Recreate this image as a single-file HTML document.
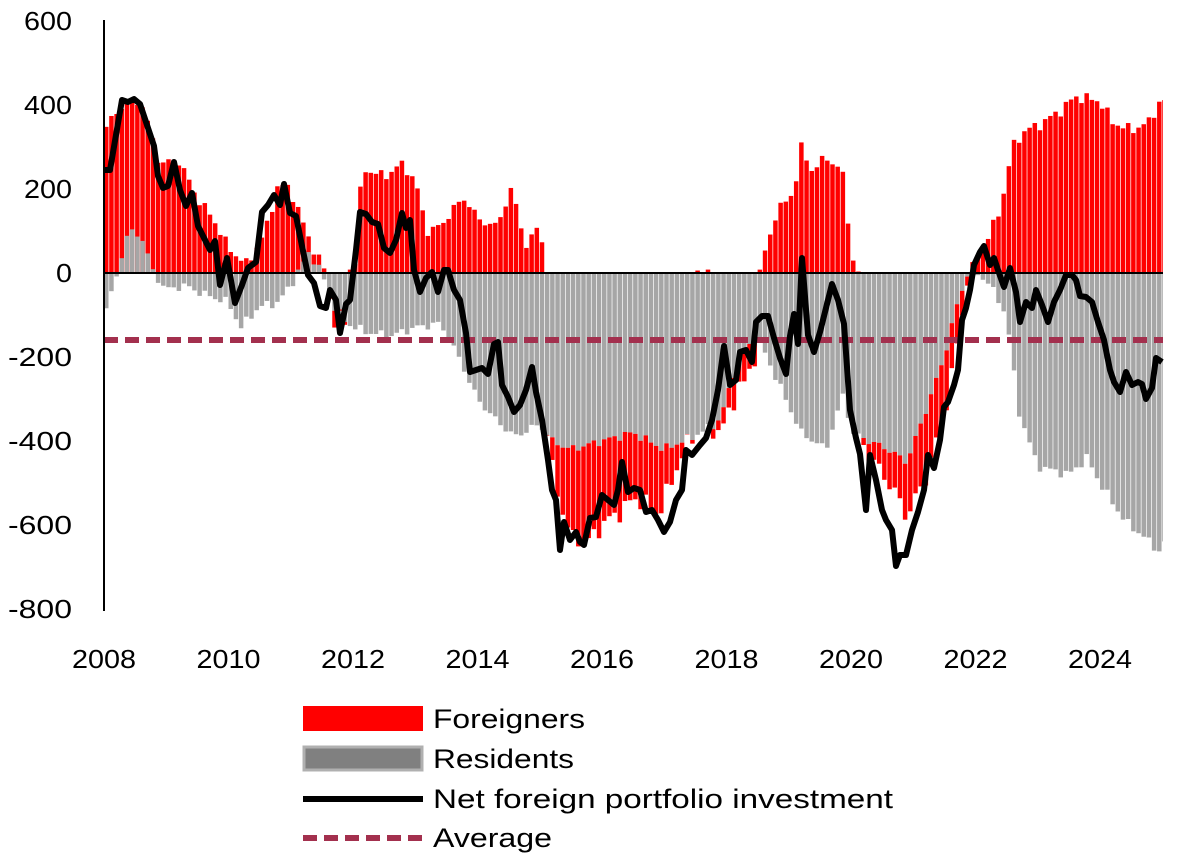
<!DOCTYPE html>
<html><head><meta charset="utf-8"><style>
html,body{margin:0;padding:0;background:#fff;}
svg{display:block;font-family:"Liberation Sans",sans-serif;}
</style></head><body>
<svg id="c" width="1181" height="858" xmlns="http://www.w3.org/2000/svg"></svg>
<script>
const svg=document.getElementById('c');
const X0=104, PX=62.25, Y0=273, K=0.42;
const xf=t=>X0+(t-2008)*PX, yf=v=>Y0-v*K;
function interp(kp,t){for(let i=0;i<kp.length-1;i++){if(t<=kp[i+1][0]){const a=kp[i],b=kp[i+1];const f=(t-a[0])/(b[0]-a[0]);return a[1]+(b[1]-a[1])*Math.max(0,Math.min(1,f));}}return kp[kp.length-1][1];}
const res=[[2008,-100],[2008.15,-40],[2008.25,20],[2008.4,100],[2008.6,90],[2008.8,0],[2009,-40],[2009.3,-30],[2009.6,-50],[2010,-70],[2010.2,-130],[2010.5,-80],[2010.8,-70],[2011,-30],[2011.3,50],[2011.5,0],[2011.7,-80],[2011.9,-120],[2012.2,-140],[2012.6,-150],[2013,-130],[2013.4,-120],[2013.7,-200],[2014,-300],[2014.3,-350],[2014.6,-390],[2015,-360],[2015.2,-400],[2015.5,-420],[2016,-400],[2016.5,-380],[2017,-420],[2017.3,-400],[2017.6,-380],[2017.9,-350],[2018.2,-200],[2018.5,-150],[2018.8,-250],[2019.2,-380],[2019.6,-420],[2019.9,-280],[2020,-380],[2020.3,-400],[2020.6,-420],[2020.9,-450],[2021.2,-330],[2021.5,-200],[2021.7,-80],[2021.9,10],[2022.2,-20],[2022.5,-100],[2022.7,-330],[2023,-460],[2023.5,-480],[2023.8,-440],[2024,-500],[2024.4,-590],[2024.8,-640],[2025,-670],[2025.1,-600]];
const fo=[[2008,340],[2008.3,400],[2008.6,410],[2008.9,260],[2009.2,270],[2009.5,180],[2009.8,120],[2010,60],[2010.3,20],[2010.6,100],[2010.8,210],[2011,200],[2011.3,80],[2011.5,20],[2011.7,-30],[2011.9,0],[2012.05,30],[2012.15,250],[2012.5,230],[2012.8,260],[2013,220],[2013.2,100],[2013.4,110],[2013.6,150],[2013.8,180],[2014,130],[2014.3,110],[2014.55,200],[2014.8,60],[2015,120],[2015.1,20],[2015.25,-100],[2015.5,-210],[2015.8,-230],[2016,-200],[2016.3,-180],[2016.6,-150],[2016.9,-160],[2017.1,-90],[2017.3,-30],[2017.5,10],[2017.8,-10],[2018,-50],[2018.3,-80],[2018.5,-30],[2018.6,40],[2018.8,140],[2019.1,200],[2019.2,300],[2019.4,240],[2019.6,280],[2019.9,230],[2020,50],[2020.1,0],[2020.4,-50],[2020.7,-90],[2020.9,-130],[2021.2,-160],[2021.5,-140],[2021.7,-100],[2021.9,0],[2022.1,50],[2022.4,150],[2022.6,300],[2022.8,340],[2023,350],[2023.4,390],[2023.6,420],[2024,410],[2024.2,360],[2024.5,340],[2024.8,360],[2025,420],[2025.1,390]];
let s='';
const step=PX/12;
for(let i=0;i<205;i++){
 const t=2008+i/12+0.04;
 const x=xf(2008+i/12);
 if(x>1163)break;
 const w=Math.min(step-0.7,1163-x);
 const nz=Math.sin(i*1.7)*9+Math.sin(i*3.1)*6;
 const r=interp(res,t)+nz*0.8, f=interp(fo,t)+nz;
 if(f>0){s+=`<rect x="${x}" y="${yf(f)}" width="${w}" height="${f*K}" fill="#ff0000"/>`;}
 if(r<0){s+=`<rect x="${x}" y="${Y0}" width="${w}" height="${-r*K}" fill="#a6a6a6"/>`;
   if(f<0)s+=`<rect x="${x}" y="${yf(r)}" width="${w}" height="${-f*K}" fill="#ff0000"/>`;}
 else{s+=`<rect x="${x}" y="${yf(r)}" width="${w}" height="${r*K}" fill="#a6a6a6"/>`;
   if(f<0)s+=`<rect x="${x}" y="${Y0}" width="${w}" height="${-f*K}" fill="#ff0000"/>`;}
}
const pts="104,170 110,170 122,100 128,102 134,99 140,104 146,122 154,146 158,176 163,188 168,186 174,162 180,190 186,206 192,193 198,226 204,238 210,250 215,241 220,285 227,258 235,303 242,285 248,268 256,262 262,212 268,205 274,195 280,205 284,184 290,213 296,216 302,246 308,275 314,283 320,306 326,308 330,290 336,300 340,333 346,304 350,300 356,250 360,212 366,214 372,222 378,224 384,248 390,253 396,240 402,213 406,228 410,220 414,270 420,292 426,278 432,272 438,292 444,270 448,270 454,290 460,300 466,333 470,372 476,370 482,368 488,374 494,344 498,342 502,385 508,397 514,412 520,405 526,390 532,367 536,392 542,420 548,460 552,490 556,500 560,550 564,522 570,540 576,532 580,542 584,545 590,518 596,517 602,495 608,500 614,505 618,490 622,462 628,492 634,488 640,490 646,512 652,510 658,520 664,532 670,522 676,500 682,490 686,450 692,455 700,445 706,438 712,420 718,390 724,346 730,385 736,380 740,352 746,350 752,362 756,322 762,316 768,316 774,338 780,358 786,374 790,336 794,314 798,344 802,258 808,335 814,352 820,332 826,308 832,284 838,300 844,324 850,410 856,438 860,454 866,510 870,455 876,480 882,510 886,520 892,530 896,566 900,555 906,555 912,530 918,512 924,490 928,455 934,468 940,440 944,407 948,402 954,385 958,370 962,320 966,308 970,290 974,265 980,252 984,246 990,265 994,258 998,270 1004,287 1010,268 1016,292 1020,322 1026,302 1032,308 1036,290 1042,305 1048,322 1054,302 1060,290 1066,275 1072,275 1076,280 1080,296 1086,297 1092,302 1098,322 1104,340 1110,370 1114,382 1120,392 1126,372 1132,385 1138,382 1142,384 1146,399 1152,388 1156,358 1162,362";
s+=`<line x1="104" y1="${Y0}" x2="1163" y2="${Y0}" stroke="#000" stroke-width="2"/>`;
s+=`<line x1="104" y1="340" x2="1163" y2="340" stroke="#a3304e" stroke-width="6" stroke-dasharray="14 7"/>`;
s+=`<polyline points="${pts}" fill="none" stroke="#000" stroke-width="6" stroke-linejoin="round"/>`;
s+=`<line x1="104" y1="20" x2="104" y2="611" stroke="#000" stroke-width="2"/>`;
for(let v=600;v>=-800;v-=200){const str=String(v);const tl=str.length*16;s+=`<text x="${72-tl}" y="${yf(v)+9}" font-size="26" textLength="${tl}" lengthAdjust="spacingAndGlyphs">${str}</text>`;}
for(let y=2008;y<=2024;y+=2){s+=`<text x="${xf(y)-32}" y="668" font-size="26" textLength="64" lengthAdjust="spacingAndGlyphs">${y}</text>`;}
s+=`<rect x="303" y="706" width="120" height="25" fill="#ff0000"/><text x="433" y="728" font-size="27" textLength="152" lengthAdjust="spacingAndGlyphs">Foreigners</text>`;
s+=`<rect x="304" y="747" width="118" height="23" fill="#808080" stroke="#b0b0b0" stroke-width="3"/><text x="433" y="768" font-size="27" textLength="141" lengthAdjust="spacingAndGlyphs">Residents</text>`;
s+=`<line x1="303" y1="799" x2="423" y2="799" stroke="#000" stroke-width="6"/><text x="433" y="808" font-size="27" textLength="460" lengthAdjust="spacingAndGlyphs">Net foreign portfolio investment</text>`;
s+=`<line x1="303" y1="838" x2="423" y2="838" stroke="#a3304e" stroke-width="6" stroke-dasharray="14 7"/><text x="433" y="847" font-size="27" textLength="119" lengthAdjust="spacingAndGlyphs">Average</text>`;
svg.innerHTML=s;
</script>
</body></html>
